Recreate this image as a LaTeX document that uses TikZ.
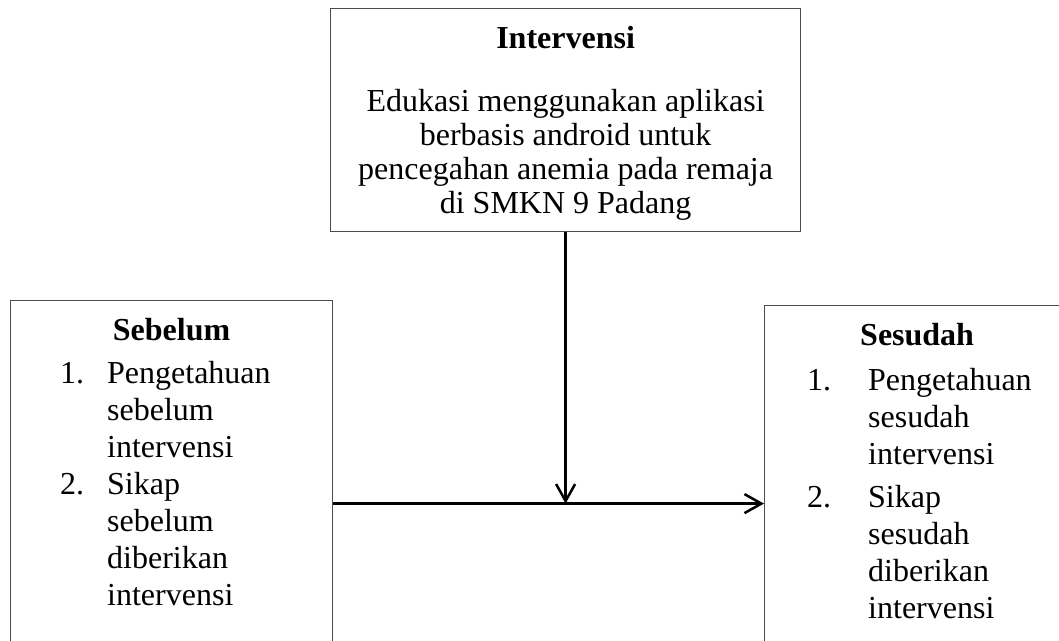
\documentclass[tikz,border=0pt]{standalone}
\usepackage{fontspec}
\setmainfont{Liberation Serif}
\usetikzlibrary{arrows.meta, positioning}

\begin{document}
\begin{tikzpicture}[x=1pt, y=-1pt,
  kotak/.style={draw=black!70, line width=1.2pt, inner sep=0pt},
  judul/.style={font=\fontsize{32}{34}\selectfont\bfseries, inner sep=0pt},
  isi/.style={font=\fontsize{32}{37}\selectfont, inner sep=0pt},
  panah/.style={line width=2.5pt, -{Straight Barb[length=17pt, width=19pt]}}]
\useasboundingbox (0,0) rectangle (1059,640);
\clip (0,0) rectangle (1059,640);

% kotak
\node[kotak, anchor=north west, minimum width=470pt, minimum height=223pt] (intervensi) at (330,8) {};
\node[kotak, anchor=north west, minimum width=322pt, minimum height=406pt] (sebelum) at (10,300) {};
\node[kotak, anchor=north west, minimum width=360pt, minimum height=396pt] (sesudah) at (764,305) {};

% teks intervensi
\node[judul, anchor=base] (intervensihead) at ([yshift=-40pt]intervensi.north) {Intervensi};
\node[isi, font=\fontsize{32}{34}\selectfont, align=center, anchor=base] (intervensiisi)
  at ([yshift=-205pt]intervensi.north)
  {Edukasi menggunakan aplikasi\\berbasis android untuk\\pencegahan anemia pada remaja\\di SMKN 9 Padang};

% teks sebelum
\node[judul, anchor=base] (sebelumhead) at ([yshift=-40pt]sebelum.north) {Sebelum};
\node[isi, anchor=base west] (sebelumisi) at (60,383) {%
  \begin{tabular}[t]{@{}p{47pt}@{}l@{}}
  1. & Pengetahuan\\ & sebelum\\ & intervensi\\
  2. & Sikap\\ & sebelum\\ & diberikan\\ & intervensi
  \end{tabular}};

% teks sesudah
\node[judul, anchor=base west] (sesudahhead) at (860,345) {Sesudah};
\node[isi, anchor=base west] (sesudahisi) at (807,390) {%
  \begin{tabular}[t]{@{}p{61pt}@{}l@{}}
  1. & Pengetahuan\\ & sesudah\\ & intervensi\\[6pt]
  2. & Sikap\\ & sesudah\\ & diberikan\\ & intervensi
  \end{tabular}};

% panah
\draw[panah] (sebelum.east) -- (sesudah.west);
\draw[panah] (intervensi.south) -- (intervensi.south |- sebelum.east);
\end{tikzpicture}
\end{document}
